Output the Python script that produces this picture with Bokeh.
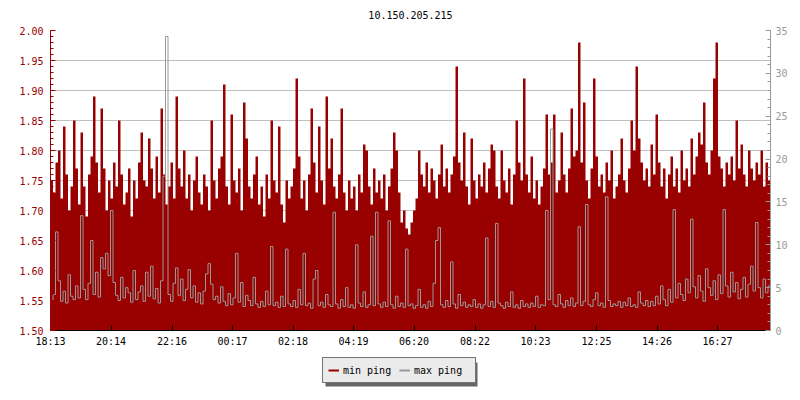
import numpy as np
from bokeh.plotting import figure
from bokeh.layouts import column
from bokeh.models import (Range1d, LinearAxis, FixedTicker, Legend, LegendItem,
                          ColumnDataSource, NumeralTickFormatter, BoxAnnotation, Label)
from bokeh.embed import file_html
from bokeh.resources import INLINE

title_text = "10.150.205.215"
start_label = "18:13"
sample_minutes = 5
tick_labels = ["18:13", "20:14", "22:16", "00:17", "02:18", "04:19",
               "06:20", "08:22", "10:23", "12:25", "14:26", "16:27"]
left_ticks = [1.50, 1.55, 1.60, 1.65, 1.70, 1.75, 1.80, 1.85, 1.90, 1.95, 2.00]
right_ticks = [0, 5, 10, 15, 20, 25, 30, 35]
series_names = ["min ping", "max ping"]

# min ping (left axis), 5-minute samples, 12 per hour
min_ping = [
    1.75, 1.73, 1.78, 1.80, 1.72, 1.84, 1.76, 1.70, 1.74, 1.85, 1.77, 1.71,
    1.83, 1.74, 1.69, 1.76, 1.79, 1.89, 1.78, 1.73, 1.87, 1.77, 1.70, 1.75,
    1.72, 1.78, 1.74, 1.85, 1.76, 1.71, 1.73, 1.77, 1.69, 1.75, 1.72, 1.78,
    1.83, 1.75, 1.74, 1.82, 1.77, 1.72, 1.79, 1.73, 1.87, 1.76, 1.71, 1.74,
    1.78, 1.72, 1.89, 1.77, 1.74, 1.80, 1.72, 1.76, 1.70, 1.75, 1.79, 1.73,
    1.71, 1.76, 1.74, 1.70, 1.85, 1.75, 1.72, 1.77, 1.79, 1.91, 1.74, 1.71,
    1.86, 1.75, 1.73, 1.77, 1.70, 1.88, 1.82, 1.74, 1.72, 1.76, 1.79, 1.71,
    1.74, 1.69, 1.76, 1.72, 1.85, 1.75, 1.73, 1.84, 1.71, 1.68, 1.75, 1.72,
    1.74, 1.77, 1.92, 1.79, 1.72, 1.75, 1.70, 1.76, 1.87, 1.78, 1.73, 1.84,
    1.75, 1.71, 1.89, 1.77, 1.82, 1.74, 1.72, 1.76, 1.87, 1.73, 1.70, 1.75,
    1.72, 1.74, 1.70, 1.76, 1.73, 1.81, 1.80, 1.74, 1.71, 1.77, 1.73, 1.75,
    1.72, 1.76, 1.70, 1.74, 1.77, 1.83, 1.80, 1.73, 1.68, 1.70, 1.67, 1.66,
    1.68, 1.70, 1.72, 1.80, 1.76, 1.74, 1.78, 1.73, 1.77, 1.75, 1.72, 1.76,
    1.81, 1.74, 1.77, 1.73, 1.76, 1.79, 1.94, 1.78, 1.75, 1.83, 1.74, 1.71,
    1.82, 1.75, 1.72, 1.76, 1.74, 1.78, 1.73, 1.77, 1.81, 1.80, 1.74, 1.72,
    1.80, 1.75, 1.73, 1.77, 1.71, 1.76, 1.85, 1.78, 1.75, 1.92, 1.76, 1.73,
    1.79, 1.72, 1.75, 1.71, 1.74, 1.77, 1.86, 1.76, 1.78, 1.86, 1.73, 1.75,
    1.83, 1.76, 1.73, 1.77, 1.87, 1.79, 1.80, 1.98, 1.78, 1.88, 1.75, 1.72,
    1.77, 1.92, 1.79, 1.74, 1.76, 1.73, 1.78, 1.75, 1.80, 1.72, 1.74, 1.76,
    1.82, 1.75, 1.73, 1.77, 1.85, 1.80, 1.94, 1.82, 1.78, 1.75, 1.77, 1.74,
    1.81, 1.76, 1.86, 1.78, 1.74, 1.77, 1.72, 1.76, 1.79, 1.74, 1.77, 1.73,
    1.80, 1.75, 1.77, 1.74, 1.82, 1.76, 1.79, 1.83, 1.81, 1.88, 1.78, 1.76,
    1.80, 1.92, 1.98, 1.79, 1.77, 1.74, 1.78, 1.76, 1.79, 1.75, 1.85, 1.77,
    1.81, 1.76, 1.74, 1.80, 1.77, 1.75, 1.78, 1.76, 1.80, 1.74, 1.78, 1.75,
]

# max ping (right axis), 5-minute samples, 12 per hour
max_ping = [
    3.5, 4.2, 11.5, 5.8, 3.4, 4.6, 3.2, 6.5, 4.0, 3.6, 5.2, 3.8,
    13.4, 4.8, 3.6, 5.5, 10.5, 4.2, 6.8, 3.9, 8.5, 7.2, 9.0, 6.4,
    14.0, 5.6, 4.1, 3.5, 6.2, 3.8, 5.0, 4.4, 3.3, 7.0, 3.6, 4.5,
    5.2, 3.4, 6.8, 4.0, 7.5, 3.7, 4.9, 3.2, 5.8, 18.0, 34.3, 4.2,
    3.4, 5.5, 7.3, 4.1, 6.0, 3.5, 4.8, 7.1, 3.8, 5.2, 3.3, 4.4,
    3.1, 4.6, 6.6, 7.8, 5.4, 3.6, 4.0, 3.2, 5.1, 3.4, 2.9, 4.3,
    3.0, 3.8, 9.0, 3.3, 5.6, 2.8, 4.1, 3.5, 2.9, 6.2, 3.1, 2.7,
    3.4, 2.8, 4.6, 3.0, 9.8, 2.9, 3.3, 2.7, 4.0, 2.8, 9.5, 3.1,
    2.8, 3.5, 2.7, 4.8, 3.0, 9.0, 2.9, 3.2, 2.6, 6.0, 7.0, 2.9,
    3.3, 2.7, 4.2, 3.0, 2.8, 13.8, 3.1, 2.6, 3.6, 2.8, 5.0, 2.7,
    3.0, 2.6, 10.0, 3.2, 2.8, 4.5, 2.7, 3.0, 11.0, 2.9, 13.8, 3.1,
    2.7, 3.3, 2.8, 12.8, 3.0, 2.6, 4.0, 2.8, 3.2, 2.7, 9.5, 2.9,
    3.1, 2.6, 2.9, 4.8, 2.7, 3.0, 2.6, 3.4, 2.8, 5.5, 10.5, 12.0,
    3.0, 2.7, 3.5, 2.8, 8.0, 3.1, 2.6, 4.2, 2.9, 3.3, 2.7, 3.0,
    2.8, 3.6, 2.7, 3.1, 2.6, 3.0, 10.8, 2.8, 3.4, 2.7, 12.5, 3.2,
    2.9, 2.6, 3.3, 2.8, 4.5, 2.7, 3.0, 2.6, 3.5, 2.8, 3.1, 2.7,
    3.2, 2.8, 4.0, 2.7, 3.0, 2.9, 14.0, 3.6, 23.5, 3.0, 2.8, 4.2,
    3.1, 2.7, 3.5, 2.9, 3.8, 2.8, 3.2, 12.1, 2.9, 3.4, 14.7, 3.0,
    2.8, 3.6, 4.4, 2.9, 3.2, 2.7, 15.6, 3.5, 2.8, 3.1, 2.9, 3.4,
    2.7, 3.3, 2.9, 3.8, 2.8, 3.0, 2.7, 4.5, 3.2, 2.9, 3.5, 2.8,
    3.4, 2.9, 4.0, 3.1, 5.2, 3.6, 2.9, 4.8, 3.3, 14.1, 3.8, 5.5,
    4.2, 3.5, 6.0, 4.4, 13.0, 5.1, 3.8, 6.4, 4.6, 3.4, 7.2, 5.0,
    4.1, 5.8, 3.6, 6.5, 4.3, 14.1, 5.2, 3.9, 6.8, 4.5, 5.6, 3.7,
    4.8, 6.2, 3.9, 5.4, 7.5, 4.6, 12.6, 5.0, 3.8, 6.0, 4.4, 5.2,
]

RED = "#990000"
GRAY = "#999999"
FONT = "DejaVu Sans Mono"


def hm(label):
    h, m = label.split(":")
    return int(h) * 60 + int(m)


start = hm(start_label)
tick_minutes = [(hm(l) - start) % 1440 for l in tick_labels]

n = len(min_ping)
t = list(np.arange(n + 1) * sample_minutes)
src = ColumnDataSource(dict(t=t, mn=min_ping + [min_ping[-1]], mx=max_ping + [max_ping[-1]]))

FW, FH = 720, 300
BL, BR = 50, 22
HH = 22  # header strip height


def strip(height, yr):
    f = figure(frame_width=FW, frame_height=height, output_backend="svg", toolbar_location=None,
               x_range=Range1d(0, FW), y_range=yr,
               min_border_left=BL, min_border_right=BR, min_border_top=0, min_border_bottom=0,
               x_axis_location=None, y_axis_location=None)
    f.outline_line_color = None
    f.grid.visible = False
    f.background_fill_color = "white"
    f.border_fill_color = "white"
    return f


# header strip with the title
hf = strip(HH, Range1d(0, HH))
hf.add_layout(Label(x=FW / 2, y=HH - 14, text=title_text, text_align="center",
                    text_baseline="middle", text_font=FONT, text_font_size="10px",
                    text_color="black"))

p = figure(frame_width=FW, frame_height=FH, output_backend="svg", toolbar_location=None,
           x_range=Range1d(0, 1440), y_range=Range1d(left_ticks[0], left_ticks[-1]),
           min_border_left=BL, min_border_right=BR, min_border_top=8, min_border_bottom=20)
p.extra_y_ranges = {"right": Range1d(right_ticks[0], right_ticks[-1])}
p.outline_line_color = None
p.background_fill_color = "white"
p.border_fill_color = "white"

p.varea_step(x="t", y1=left_ticks[0], y2="mn", step_mode="after", source=src,
             fill_color=RED, fill_alpha=1.0)
p.step(x="t", y="mx", mode="after", source=src, y_range_name="right",
       line_color=GRAY, line_width=1)

# axes
xa = p.xaxis[0]
xa.ticker = FixedTicker(ticks=tick_minutes)
xa.major_label_overrides = {m: l for m, l in zip(tick_minutes, tick_labels)}
xa.major_tick_in = 5
xa.major_tick_out = 0
xa.minor_tick_line_color = None
xa.axis_line_color = "black"
xa.major_tick_line_color = "black"
xa.major_label_text_font = FONT
xa.major_label_text_font_size = "10px"
xa.major_label_text_color = "black"
xa.major_label_standoff = 5

ya = p.yaxis[0]
minor_left = [round(left_ticks[0] + 0.01 * i, 2) for i in range(51)]
ya.ticker = FixedTicker(ticks=left_ticks, minor_ticks=minor_left)
ya.formatter = NumeralTickFormatter(format="0.00")
ya.major_tick_in = 5
ya.major_tick_out = 0
ya.minor_tick_in = 3
ya.minor_tick_out = 0
ya.axis_line_color = RED
ya.major_tick_line_color = RED
ya.minor_tick_line_color = RED
ya.major_label_text_color = RED
ya.major_label_text_font = FONT
ya.major_label_text_font_size = "10px"
ya.major_label_standoff = 7

ra = LinearAxis(y_range_name="right",
                ticker=FixedTicker(ticks=right_ticks, minor_ticks=list(range(right_ticks[-1] + 1))))
ra.major_tick_in = 5
ra.major_tick_out = 0
ra.minor_tick_in = 3
ra.minor_tick_out = 0
ra.axis_line_color = GRAY
ra.major_tick_line_color = GRAY
ra.minor_tick_line_color = GRAY
ra.major_label_text_color = GRAY
ra.major_label_text_font = FONT
ra.major_label_text_font_size = "10px"
ra.major_label_standoff = 5
p.add_layout(ra, "right")

p.xgrid.grid_line_color = None
p.ygrid.ticker = FixedTicker(ticks=left_ticks)
p.ygrid.grid_line_color = "#c0c0c0"

# legend strip below the chart (pixel units; the y range sits below the
# series values so the legend's source lines stay out of view)
LH = 42
lf = strip(LH, Range1d(-LH, 0))

d1 = lf.line(x="t", y="mn", source=src, line_color=RED, line_width=2)
d2 = lf.line(x="t", y="mx", source=src, line_color=GRAY, line_width=2)

leg_x, leg_y, pad, gw, lab_w, stand = 272, 9, 5, 11, 56, 4
leg_w = 2 * pad + 2 * (gw + stand + lab_w)
leg_h = 2 * pad + 14
shadow = BoxAnnotation(left=leg_x + 3, right=leg_x + 3 + leg_w,
                       bottom=-LH + leg_y - 3, top=-LH + leg_y - 3 + leg_h,
                       fill_color="#666666", fill_alpha=1.0, line_color=None)
lf.add_layout(shadow)

leg = Legend(items=[LegendItem(label=series_names[0], renderers=[d1]),
                    LegendItem(label=series_names[1], renderers=[d2])],
             location=(leg_x, leg_y), orientation="horizontal",
             background_fill_color="#ebebeb", background_fill_alpha=1.0,
             border_line_color="black", border_line_width=1,
             label_text_font=FONT, label_text_font_size="10px", label_text_color="black",
             glyph_width=gw, glyph_height=14, label_height=14, label_width=lab_w,
             label_standoff=stand, spacing=0, padding=pad, margin=0)
lf.add_layout(leg, "center")

layout = column(hf, p, lf, spacing=0)
open("out.html", "w").write(file_html(layout, INLINE))
